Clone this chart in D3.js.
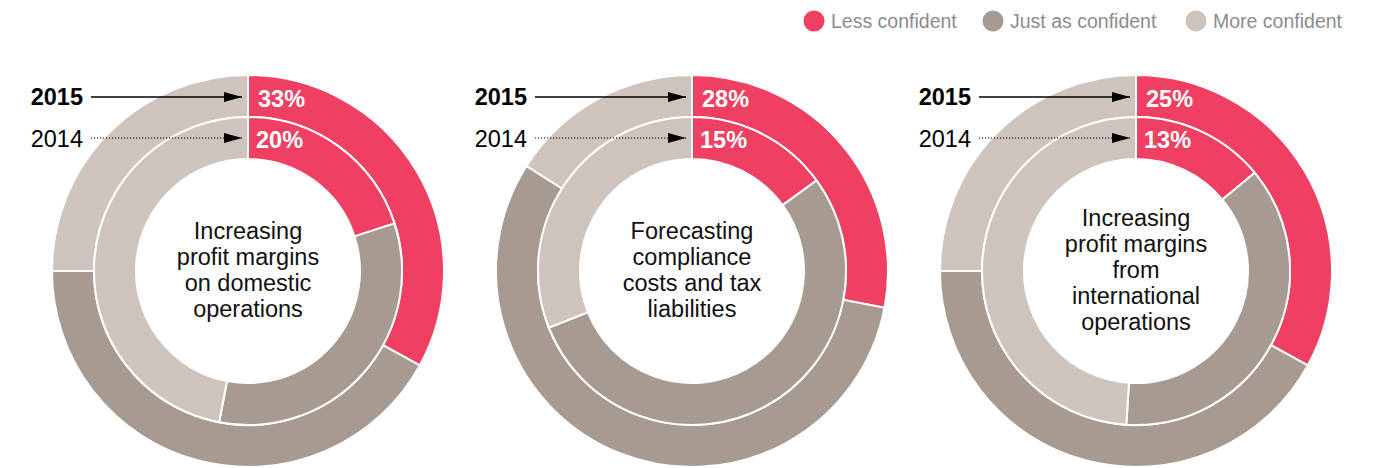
<!DOCTYPE html>
<html>
<head>
<meta charset="utf-8">
<script src="https://cdn.jsdelivr.net/npm/d3@7"></script>
<style>
  body { margin:0; background:#fff; }
  svg text { font-family: "Liberation Sans", Arial, Helvetica, sans-serif; }
</style>
</head>
<body>
<div class="canvas"></div>
<script>
// series
const categories = ["Less confident", "Just as confident", "More confident"];
const colors = ["#ef3f62", "#a79a90", "#cec4bd"];
const topics = [
  ["Increasing", "profit margins", "on domestic", "operations"],
  ["Forecasting", "compliance", "costs and tax", "liabilities"],
  ["Increasing", "profit margins", "from", "international", "operations"]
];
const years = ["2015", "2014"];
const values2015 = [[33, 42, 25], [28, 56, 16], [33, 42, 25]];
const values2014 = [[20, 33, 47], [15, 54, 31], [14, 37, 49]];
const labels2015 = ["33%", "28%", "25%"];
const labels2014 = ["20%", "15%", "13%"];

let dim = { width: 1382, height: 468 };
let svg = d3.select(".canvas").append("svg").attr("width", dim.width).attr("height", dim.height);

const defs = svg.append("defs");
defs.append("marker")
  .attr("id", "head").attr("viewBox", "0 0 18 10")
  .attr("refX", 18).attr("refY", 5)
  .attr("markerWidth", 18).attr("markerHeight", 10)
  .attr("markerUnits", "userSpaceOnUse").attr("orient", "auto")
  .append("path").attr("d", "M0,0 L18,5 L0,10 Z").attr("fill", "#000");

const x = d3.scalePoint().domain(d3.range(topics.length)).range([248, 1136]);
const cy = 271;
const rIn = 112, rMid = 154, rOut = 196;

const pie = d3.pie().sort(null).value(d => d);
const arcOuter = d3.arc().innerRadius(rMid).outerRadius(rOut);
const arcInner = d3.arc().innerRadius(rIn).outerRadius(rMid);

topics.forEach((lines, i) => {
  const g = svg.append("g").attr("transform", `translate(${x(i)},${cy})`);

  g.selectAll(".outer").data(pie(values2015[i])).enter().append("path")
    .attr("d", arcOuter).attr("fill", (d, j) => colors[j])
    .attr("stroke", "#fff").attr("stroke-width", 2);
  g.selectAll(".inner").data(pie(values2014[i])).enter().append("path")
    .attr("d", arcInner).attr("fill", (d, j) => colors[j])
    .attr("stroke", "#fff").attr("stroke-width", 2);

  // percentages
  g.append("text").attr("x", 10).attr("y", 107 - cy).text(labels2015[i])
    .attr("fill", "#fff").attr("font-weight", "bold").attr("font-size", 23.5);
  g.append("text").attr("x", 8).attr("y", 148 - cy).text(labels2014[i])
    .attr("fill", "#fff").attr("font-weight", "bold").attr("font-size", 23.5);

  // year labels + arrows
  g.append("text").attr("x", -165).attr("y", 105 - cy).text(years[0])
    .attr("text-anchor", "end").attr("font-weight", "bold").attr("font-size", 23.5).attr("fill", "#000");
  g.append("text").attr("x", -165).attr("y", 147 - cy).text(years[1])
    .attr("text-anchor", "end").attr("font-size", 23.5).attr("fill", "#000");
  g.append("line").attr("x1", -157).attr("x2", -6).attr("y1", 97 - cy).attr("y2", 97 - cy)
    .attr("stroke", "#000").attr("stroke-width", 1.5).attr("marker-end", "url(#head)");
  g.append("line").attr("x1", -157).attr("x2", -6).attr("y1", 138 - cy).attr("y2", 138 - cy)
    .attr("stroke", "#000").attr("stroke-width", 1.2).attr("stroke-dasharray", "1.2,1.8")
    .attr("marker-end", "url(#head)");

  // centre caption
  const lh = 26;
  const t = g.append("text").attr("text-anchor", "middle").attr("font-size", 23.5).attr("fill", "#111");
  lines.forEach((l, k) => {
    t.append("tspan").attr("x", 0)
      .attr("y", (k - (lines.length - 1) / 2) * lh + 7)
      .text(l);
  });
});

// legend
const legendX = [814, 993, 1196];
const legend = svg.append("g").selectAll("g").data(categories).enter().append("g")
  .attr("transform", (d, i) => `translate(${legendX[i]},21)`);
legend.append("circle").attr("r", 10.5).attr("fill", (d, i) => colors[i]);
legend.append("text").attr("x", 17).attr("y", 7).text(d => d)
  .attr("font-size", 19.5).attr("fill", "#8c8c8c");
</script>
</body>
</html>
